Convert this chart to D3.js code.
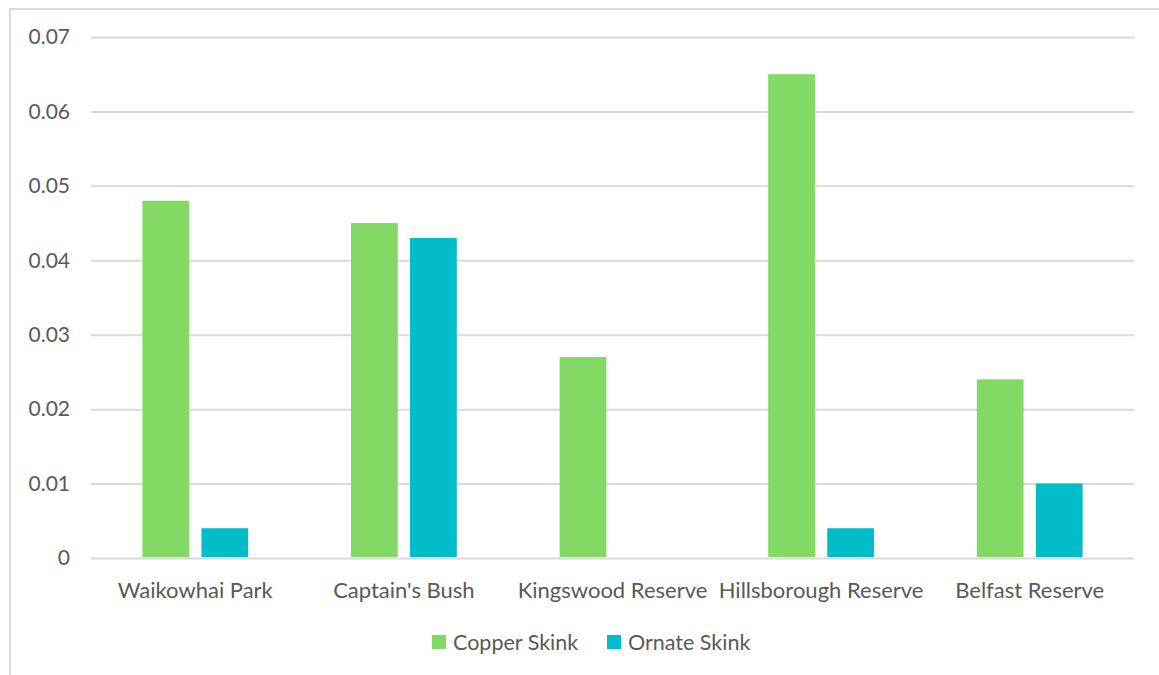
<!DOCTYPE html>
<html>
<head>
<meta charset="utf-8">
<script src="https://cdn.jsdelivr.net/npm/d3@7"></script>
<style>
  html, body { margin: 0; padding: 0; background: #fff; }
  svg { display: block; font-family: Lato, "Open Sans", sans-serif; }
</style>
</head>
<body>
<svg id="chart" width="1159" height="675"></svg>
<script>
// Sites surveyed and skink density per site
const sites = ["Waikowhai Park", "Captain's Bush", "Kingswood Reserve", "Hillsborough Reserve", "Belfast Reserve"];
const seriesNames = ["Copper Skink", "Ornate Skink"];
const copperSkink = [0.048, 0.045, 0.027, 0.065, 0.024];
const ornateSkink = [0.004, 0.043, 0, 0.004, 0.010];
const yTicks = [0, 0.01, 0.02, 0.03, 0.04, 0.05, 0.06, 0.07];
const colors = ["#82d964", "#00bdc8"];

const svg = d3.select("#chart");
const W = 1159, H = 675;
const plot = { left: 91, right: 1134, top: 37, bottom: 558 };

// Outer frame (top and left edges)
svg.append("path")
  .attr("d", `M10,${H} L10,9 L${W},9`)
  .attr("fill", "none")
  .attr("stroke", "#d9d9d9")
  .attr("stroke-width", 2);

const x0 = d3.scaleBand().domain(sites).range([plot.left, plot.right]).paddingInner(0).paddingOuter(0);
const y = d3.scaleLinear().domain([0, 0.07]).range([plot.bottom, plot.top]);

// Bars take about half the category width, with a small gap between the two series
const barW = x0.bandwidth() * 0.224;
const barGap = x0.bandwidth() * 0.059;
const x1 = d3.scaleOrdinal().domain(seriesNames)
  .range([-barGap / 2 - barW, barGap / 2]);

// Gridlines and value labels
const yAxis = d3.axisLeft(y).tickValues(yTicks)
  .tickSize(-(plot.right - plot.left))
  .tickPadding(21)
  .tickFormat(d => d === 0 ? "0" : d3.format(".2f")(d));
const gy = svg.append("g").attr("transform", `translate(${plot.left},0)`).call(yAxis);
gy.select(".domain").remove();
gy.selectAll(".tick line").attr("stroke", "#d9d9d9").attr("stroke-width", 2);
gy.selectAll(".tick text")
  .attr("fill", "#595959")
  .attr("font-size", 21)
  .attr("font-family", "Lato, 'Open Sans', sans-serif");

// Bars
const table = sites.map((s, i) => ({ site: s, values: [copperSkink[i], ornateSkink[i]] }));
const groups = svg.append("g").selectAll("g").data(table).join("g")
  .attr("transform", d => `translate(${x0(d.site) + x0.bandwidth() / 2},0)`);
groups.selectAll("rect")
  .data(d => d.values.map((v, k) => ({ key: seriesNames[k], value: v, k })))
  .join("rect")
  .attr("x", d => x1(d.key))
  .attr("width", barW)
  .attr("y", d => y(d.value))
  .attr("height", d => Math.max(0, y(0) - y(d.value) - 1))
  .attr("fill", d => colors[d.k]);

// Category labels
const xAxis = d3.axisBottom(x0).tickSize(0).tickPadding(24);
const gx = svg.append("g").attr("transform", `translate(0,${plot.bottom})`).call(xAxis);
gx.select(".domain").remove();
gx.selectAll(".tick text")
  .attr("fill", "#595959")
  .attr("font-size", 22)
  .attr("font-family", "Lato, 'Open Sans', sans-serif");

// Legend
const legend = svg.append("g");
const legendX = [432, 607];
seriesNames.forEach((name, i) => {
  const g = legend.append("g").attr("transform", `translate(${legendX[i]},635)`);
  g.append("rect").attr("width", 14).attr("height", 14).attr("fill", colors[i]);
  g.append("text").attr("x", 21).attr("y", 7).attr("dy", "0.35em")
    .attr("fill", "#595959").attr("font-size", 21.5)
    .text(name);
});
</script>
</body>
</html>
